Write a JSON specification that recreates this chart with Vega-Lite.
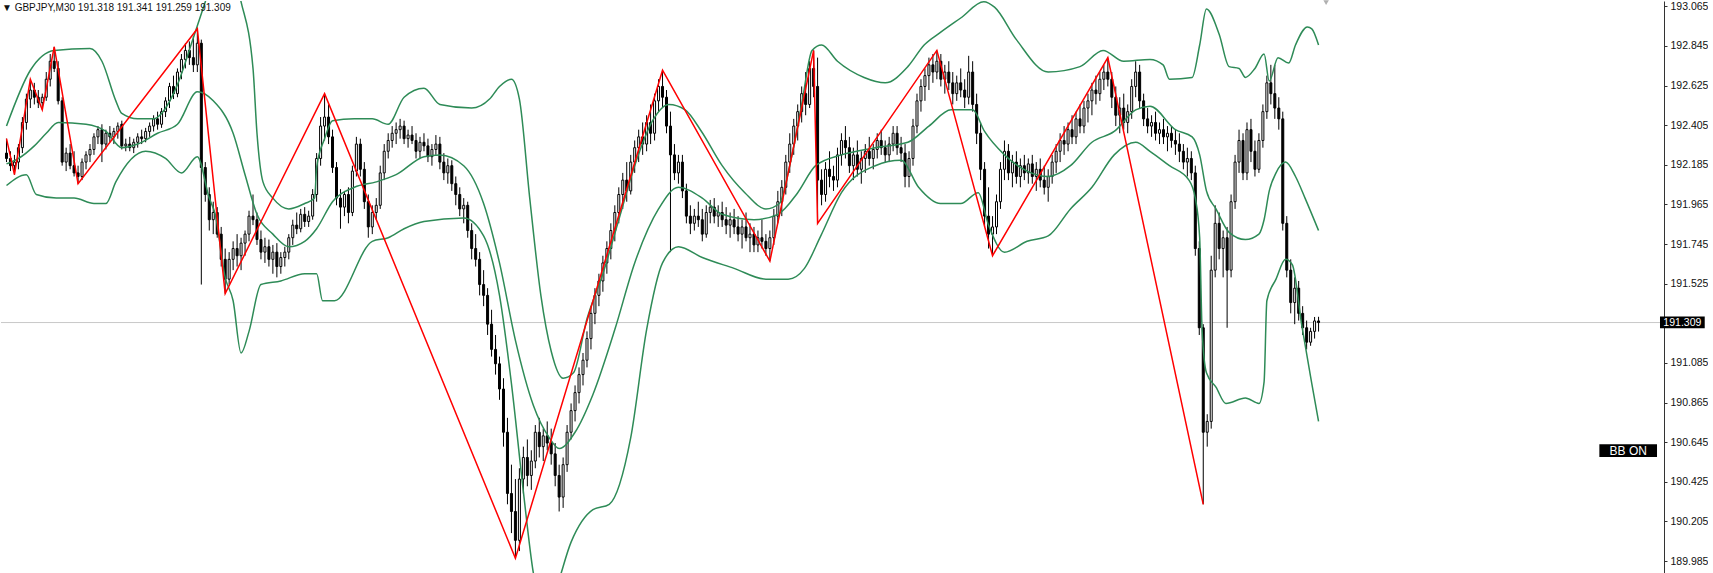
{
"$schema": "https://vega.github.io/schema/vega-lite/v6.json",
"width": 1663, "height": 573, "padding": 0, "autosize": {"type": "pad"},
"background": "white",
"config": {"view": {"stroke": null}, "axisY": {"labelFont": "Liberation Sans", "labelFontSize": 10.5, "labelColor": "#111", "tickSize": 3, "tickColor": "#333", "domainColor": "#333", "labelPadding": 3, "grid": false}},
"title": {"text": "▼ GBPJPY,M30  191.318 191.341 191.259 191.309", "anchor": "start", "frame": "group", "orient": "top", "offset": -13, "font": "Liberation Sans", "fontSize": 10, "fontWeight": "normal", "color": "#111", "dx": 1},
"datasets": {
"candles": [
{"i":0,"o":192.25,"h":192.33,"l":192.2,"c":192.22},{"i":1,"o":192.22,"h":192.26,"l":192.15,"c":192.18},{"i":2,"o":192.18,"h":192.24,"l":192.13,"c":192.2},{"i":3,"o":192.2,"h":192.3,"l":192.16,"c":192.28},{"i":4,"o":192.28,"h":192.45,"l":192.25,"c":192.42},{"i":5,"o":192.42,"h":192.58,"l":192.38,"c":192.55},{"i":6,"o":192.55,"h":192.66,"l":192.5,"c":192.6},{"i":7,"o":192.6,"h":192.64,"l":192.52,"c":192.56},{"i":8,"o":192.56,"h":192.6,"l":192.5,"c":192.53},{"i":9,"o":192.53,"h":192.58,"l":192.49,"c":192.56},
{"i":10,"o":192.56,"h":192.7,"l":192.54,"c":192.66},{"i":11,"o":192.66,"h":192.8,"l":192.62,"c":192.76},{"i":12,"o":192.76,"h":192.84,"l":192.7,"c":192.72},{"i":13,"o":192.72,"h":192.76,"l":192.52,"c":192.54},{"i":14,"o":192.54,"h":192.56,"l":192.18,"c":192.2},{"i":15,"o":192.2,"h":192.28,"l":192.15,"c":192.25},{"i":16,"o":192.25,"h":192.3,"l":192.16,"c":192.18},{"i":17,"o":192.18,"h":192.26,"l":192.12,"c":192.14},{"i":18,"o":192.14,"h":192.18,"l":192.08,"c":192.12},{"i":19,"o":192.12,"h":192.22,"l":192.1,"c":192.2},
{"i":20,"o":192.2,"h":192.26,"l":192.16,"c":192.24},{"i":21,"o":192.24,"h":192.3,"l":192.2,"c":192.27},{"i":22,"o":192.27,"h":192.36,"l":192.24,"c":192.34},{"i":23,"o":192.34,"h":192.4,"l":192.3,"c":192.38},{"i":24,"o":192.38,"h":192.41,"l":192.2,"c":192.3},{"i":25,"o":192.3,"h":192.38,"l":192.27,"c":192.36},{"i":26,"o":192.36,"h":192.4,"l":192.31,"c":192.34},{"i":27,"o":192.34,"h":192.39,"l":192.3,"c":192.37},{"i":28,"o":192.37,"h":192.42,"l":192.33,"c":192.4},{"i":29,"o":192.41,"h":192.43,"l":192.27,"c":192.29},
{"i":30,"o":192.29,"h":192.33,"l":192.26,"c":192.3},{"i":31,"o":192.3,"h":192.34,"l":192.26,"c":192.28},{"i":32,"o":192.28,"h":192.33,"l":192.25,"c":192.31},{"i":33,"o":192.31,"h":192.36,"l":192.28,"c":192.34},{"i":34,"o":192.34,"h":192.38,"l":192.3,"c":192.33},{"i":35,"o":192.33,"h":192.39,"l":192.31,"c":192.37},{"i":36,"o":192.37,"h":192.42,"l":192.34,"c":192.4},{"i":37,"o":192.4,"h":192.46,"l":192.37,"c":192.44},{"i":38,"o":192.44,"h":192.48,"l":192.38,"c":192.41},{"i":39,"o":192.41,"h":192.5,"l":192.39,"c":192.48},
{"i":40,"o":192.48,"h":192.56,"l":192.45,"c":192.54},{"i":41,"o":192.54,"h":192.64,"l":192.5,"c":192.62},{"i":42,"o":192.62,"h":192.68,"l":192.55,"c":192.58},{"i":43,"o":192.58,"h":192.72,"l":192.56,"c":192.7},{"i":44,"o":192.7,"h":192.8,"l":192.66,"c":192.77},{"i":45,"o":192.77,"h":192.86,"l":192.72,"c":192.82},{"i":46,"o":192.82,"h":192.87,"l":192.74,"c":192.78},{"i":47,"o":192.78,"h":192.9,"l":192.7,"c":192.74},{"i":48,"o":192.74,"h":192.94,"l":192.7,"c":192.86},{"i":49,"o":192.86,"h":192.88,"l":191.52,"c":192.17},
{"i":50,"o":192.17,"h":192.2,"l":191.98,"c":192.02},{"i":51,"o":192.02,"h":192.06,"l":191.82,"c":191.88},{"i":52,"o":191.88,"h":191.98,"l":191.8,"c":191.92},{"i":53,"o":191.92,"h":191.95,"l":191.78,"c":191.8},{"i":54,"o":191.8,"h":191.84,"l":191.62,"c":191.66},{"i":55,"o":191.66,"h":191.72,"l":191.47,"c":191.55},{"i":56,"o":191.55,"h":191.7,"l":191.52,"c":191.66},{"i":57,"o":191.66,"h":191.76,"l":191.6,"c":191.72},{"i":58,"o":191.72,"h":191.8,"l":191.62,"c":191.68},{"i":59,"o":191.68,"h":191.78,"l":191.6,"c":191.75},
{"i":60,"o":191.75,"h":191.82,"l":191.68,"c":191.8},{"i":61,"o":191.8,"h":191.93,"l":191.76,"c":191.9},{"i":62,"o":191.9,"h":192.02,"l":191.85,"c":191.88},{"i":63,"o":191.88,"h":191.92,"l":191.74,"c":191.77},{"i":64,"o":191.77,"h":191.82,"l":191.66,"c":191.7},{"i":65,"o":191.7,"h":191.78,"l":191.64,"c":191.73},{"i":66,"o":191.73,"h":191.77,"l":191.62,"c":191.66},{"i":67,"o":191.66,"h":191.74,"l":191.58,"c":191.7},{"i":68,"o":191.7,"h":191.75,"l":191.56,"c":191.62},{"i":69,"o":191.62,"h":191.7,"l":191.58,"c":191.67},
{"i":70,"o":191.67,"h":191.73,"l":191.62,"c":191.7},{"i":71,"o":191.7,"h":191.8,"l":191.66,"c":191.78},{"i":72,"o":191.78,"h":191.88,"l":191.74,"c":191.85},{"i":73,"o":191.85,"h":191.92,"l":191.8,"c":191.83},{"i":74,"o":191.83,"h":191.94,"l":191.81,"c":191.91},{"i":75,"o":191.91,"h":191.95,"l":191.84,"c":191.87},{"i":76,"o":191.87,"h":191.93,"l":191.84,"c":191.9},{"i":77,"o":191.9,"h":192.05,"l":191.88,"c":192.02},{"i":78,"o":192.02,"h":192.25,"l":191.98,"c":192.22},{"i":79,"o":192.22,"h":192.45,"l":192.18,"c":192.4},
{"i":80,"o":192.4,"h":192.58,"l":192.32,"c":192.45},{"i":81,"o":192.45,"h":192.52,"l":192.3,"c":192.34},{"i":82,"o":192.34,"h":192.38,"l":192.14,"c":192.17},{"i":83,"o":192.17,"h":192.2,"l":191.96,"c":192.0},{"i":84,"o":192.0,"h":192.05,"l":191.83,"c":191.95},{"i":85,"o":191.95,"h":192.04,"l":191.9,"c":192.02},{"i":86,"o":192.02,"h":192.06,"l":191.86,"c":191.92},{"i":87,"o":191.92,"h":192.18,"l":191.9,"c":192.15},{"i":88,"o":192.15,"h":192.34,"l":192.12,"c":192.3},{"i":89,"o":192.3,"h":192.33,"l":192.12,"c":192.16},
{"i":90,"o":192.16,"h":192.2,"l":191.94,"c":191.98},{"i":91,"o":191.98,"h":192.02,"l":191.78,"c":191.84},{"i":92,"o":191.84,"h":191.96,"l":191.8,"c":191.92},{"i":93,"o":191.92,"h":192.0,"l":191.88,"c":191.96},{"i":94,"o":191.96,"h":192.18,"l":191.94,"c":192.14},{"i":95,"o":192.14,"h":192.3,"l":192.1,"c":192.26},{"i":96,"o":192.26,"h":192.36,"l":192.22,"c":192.32},{"i":97,"o":192.32,"h":192.4,"l":192.28,"c":192.36},{"i":98,"o":192.36,"h":192.42,"l":192.3,"c":192.38},{"i":99,"o":192.38,"h":192.44,"l":192.33,"c":192.4},
{"i":100,"o":192.4,"h":192.43,"l":192.3,"c":192.33},{"i":101,"o":192.33,"h":192.38,"l":192.28,"c":192.35},{"i":102,"o":192.35,"h":192.4,"l":192.3,"c":192.32},{"i":103,"o":192.32,"h":192.36,"l":192.22,"c":192.26},{"i":104,"o":192.26,"h":192.34,"l":192.22,"c":192.31},{"i":105,"o":192.31,"h":192.36,"l":192.26,"c":192.29},{"i":106,"o":192.29,"h":192.33,"l":192.2,"c":192.23},{"i":107,"o":192.23,"h":192.3,"l":192.18,"c":192.27},{"i":108,"o":192.27,"h":192.35,"l":192.24,"c":192.3},{"i":109,"o":192.3,"h":192.34,"l":192.16,"c":192.2},
{"i":110,"o":192.2,"h":192.25,"l":192.1,"c":192.14},{"i":111,"o":192.14,"h":192.22,"l":192.08,"c":192.18},{"i":112,"o":192.18,"h":192.21,"l":192.04,"c":192.08},{"i":113,"o":192.08,"h":192.12,"l":191.96,"c":192.02},{"i":114,"o":192.02,"h":192.06,"l":191.9,"c":191.94},{"i":115,"o":191.94,"h":192.0,"l":191.86,"c":191.96},{"i":116,"o":191.96,"h":191.98,"l":191.78,"c":191.82},{"i":117,"o":191.82,"h":191.86,"l":191.66,"c":191.72},{"i":118,"o":191.72,"h":191.8,"l":191.62,"c":191.66},{"i":119,"o":191.66,"h":191.7,"l":191.46,"c":191.52},
{"i":120,"o":191.52,"h":191.6,"l":191.4,"c":191.46},{"i":121,"o":191.46,"h":191.5,"l":191.24,"c":191.3},{"i":122,"o":191.3,"h":191.38,"l":191.12,"c":191.16},{"i":123,"o":191.16,"h":191.24,"l":191.02,"c":191.08},{"i":124,"o":191.08,"h":191.12,"l":190.88,"c":190.94},{"i":125,"o":190.94,"h":191.0,"l":190.62,"c":190.7},{"i":126,"o":190.7,"h":190.78,"l":190.3,"c":190.36},{"i":127,"o":190.36,"h":190.52,"l":190.14,"c":190.26},{"i":128,"o":190.26,"h":190.44,"l":190.0,"c":190.1},{"i":129,"o":190.1,"h":190.5,"l":190.04,"c":190.44},
{"i":130,"o":190.44,"h":190.62,"l":190.36,"c":190.56},{"i":131,"o":190.56,"h":190.66,"l":190.4,"c":190.46},{"i":132,"o":190.46,"h":190.6,"l":190.38,"c":190.54},{"i":133,"o":190.54,"h":190.74,"l":190.5,"c":190.7},{"i":134,"o":190.7,"h":190.78,"l":190.56,"c":190.62},{"i":135,"o":190.62,"h":190.72,"l":190.54,"c":190.68},{"i":136,"o":190.68,"h":190.76,"l":190.6,"c":190.64},{"i":137,"o":190.64,"h":190.72,"l":190.52,"c":190.58},{"i":138,"o":190.58,"h":190.64,"l":190.4,"c":190.46},{"i":139,"o":190.46,"h":190.52,"l":190.26,"c":190.34},
{"i":140,"o":190.34,"h":190.56,"l":190.28,"c":190.52},{"i":141,"o":190.52,"h":190.74,"l":190.48,"c":190.7},{"i":142,"o":190.7,"h":190.86,"l":190.66,"c":190.82},{"i":143,"o":190.82,"h":190.96,"l":190.76,"c":190.92},{"i":144,"o":190.92,"h":191.06,"l":190.86,"c":191.02},{"i":145,"o":191.02,"h":191.14,"l":190.96,"c":191.1},{"i":146,"o":191.1,"h":191.26,"l":191.06,"c":191.22},{"i":147,"o":191.22,"h":191.4,"l":191.16,"c":191.36},{"i":148,"o":191.36,"h":191.5,"l":191.3,"c":191.46},{"i":149,"o":191.46,"h":191.58,"l":191.4,"c":191.54},
{"i":150,"o":191.54,"h":191.68,"l":191.48,"c":191.64},{"i":151,"o":191.64,"h":191.76,"l":191.58,"c":191.72},{"i":152,"o":191.72,"h":191.86,"l":191.66,"c":191.82},{"i":153,"o":191.82,"h":191.96,"l":191.76,"c":191.92},{"i":154,"o":191.92,"h":192.06,"l":191.86,"c":192.02},{"i":155,"o":192.02,"h":192.14,"l":191.94,"c":192.1},{"i":156,"o":192.1,"h":192.2,"l":191.98,"c":192.04},{"i":157,"o":192.04,"h":192.24,"l":192.02,"c":192.2},{"i":158,"o":192.2,"h":192.32,"l":192.14,"c":192.28},{"i":159,"o":192.28,"h":192.38,"l":192.2,"c":192.34},
{"i":160,"o":192.34,"h":192.42,"l":192.24,"c":192.3},{"i":161,"o":192.3,"h":192.46,"l":192.26,"c":192.42},{"i":162,"o":192.42,"h":192.52,"l":192.3,"c":192.36},{"i":163,"o":192.36,"h":192.58,"l":192.32,"c":192.54},{"i":164,"o":192.54,"h":192.66,"l":192.48,"c":192.62},{"i":165,"o":192.62,"h":192.71,"l":192.5,"c":192.56},{"i":166,"o":192.56,"h":192.6,"l":192.36,"c":192.4},{"i":167,"o":192.4,"h":192.48,"l":191.7,"c":192.24},{"i":168,"o":192.24,"h":192.3,"l":192.1,"c":192.14},{"i":169,"o":192.14,"h":192.24,"l":192.08,"c":192.2},
{"i":170,"o":192.2,"h":192.24,"l":192.0,"c":192.04},{"i":171,"o":192.04,"h":192.08,"l":191.86,"c":191.9},{"i":172,"o":191.9,"h":191.96,"l":191.8,"c":191.86},{"i":173,"o":191.86,"h":191.94,"l":191.82,"c":191.9},{"i":174,"o":191.9,"h":191.98,"l":191.84,"c":191.88},{"i":175,"o":191.88,"h":191.94,"l":191.76,"c":191.8},{"i":176,"o":191.8,"h":191.96,"l":191.78,"c":191.92},{"i":177,"o":191.92,"h":191.99,"l":191.86,"c":191.95},{"i":178,"o":191.95,"h":192.0,"l":191.86,"c":191.9},{"i":179,"o":191.9,"h":191.96,"l":191.84,"c":191.92},
{"i":180,"o":191.92,"h":191.98,"l":191.84,"c":191.88},{"i":181,"o":191.88,"h":191.95,"l":191.8,"c":191.85},{"i":182,"o":191.85,"h":191.92,"l":191.78,"c":191.88},{"i":183,"o":191.88,"h":191.94,"l":191.8,"c":191.84},{"i":184,"o":191.84,"h":191.9,"l":191.76,"c":191.8},{"i":185,"o":191.8,"h":191.88,"l":191.72,"c":191.84},{"i":186,"o":191.84,"h":191.92,"l":191.76,"c":191.78},{"i":187,"o":191.78,"h":191.86,"l":191.7,"c":191.8},{"i":188,"o":191.8,"h":191.84,"l":191.7,"c":191.74},{"i":189,"o":191.74,"h":191.82,"l":191.7,"c":191.78},
{"i":190,"o":191.78,"h":191.88,"l":191.72,"c":191.76},{"i":191,"o":191.76,"h":191.8,"l":191.68,"c":191.72},{"i":192,"o":191.72,"h":191.82,"l":191.65,"c":191.78},{"i":193,"o":191.78,"h":191.94,"l":191.74,"c":191.9},{"i":194,"o":191.9,"h":192.04,"l":191.86,"c":191.98},{"i":195,"o":191.98,"h":192.1,"l":191.9,"c":192.06},{"i":196,"o":192.06,"h":192.24,"l":192.02,"c":192.2},{"i":197,"o":192.2,"h":192.36,"l":192.14,"c":192.3},{"i":198,"o":192.3,"h":192.44,"l":192.24,"c":192.4},{"i":199,"o":192.4,"h":192.52,"l":192.32,"c":192.48},
{"i":200,"o":192.48,"h":192.62,"l":192.42,"c":192.58},{"i":201,"o":192.58,"h":192.7,"l":192.46,"c":192.52},{"i":202,"o":192.52,"h":192.76,"l":192.5,"c":192.72},{"i":203,"o":192.72,"h":192.82,"l":192.56,"c":192.62},{"i":204,"o":192.62,"h":192.78,"l":191.86,"c":192.1},{"i":205,"o":192.1,"h":192.16,"l":191.96,"c":192.02},{"i":206,"o":192.02,"h":192.2,"l":191.98,"c":192.16},{"i":207,"o":192.16,"h":192.26,"l":192.06,"c":192.12},{"i":208,"o":192.12,"h":192.18,"l":192.04,"c":192.1},{"i":209,"o":192.1,"h":192.28,"l":192.06,"c":192.24},
{"i":210,"o":192.24,"h":192.36,"l":192.18,"c":192.32},{"i":211,"o":192.32,"h":192.4,"l":192.22,"c":192.28},{"i":212,"o":192.28,"h":192.34,"l":192.14,"c":192.18},{"i":213,"o":192.18,"h":192.28,"l":192.1,"c":192.24},{"i":214,"o":192.24,"h":192.32,"l":192.12,"c":192.16},{"i":215,"o":192.16,"h":192.26,"l":192.08,"c":192.22},{"i":216,"o":192.22,"h":192.3,"l":192.14,"c":192.26},{"i":217,"o":192.26,"h":192.34,"l":192.18,"c":192.22},{"i":218,"o":192.22,"h":192.3,"l":192.16,"c":192.27},{"i":219,"o":192.27,"h":192.36,"l":192.22,"c":192.32},
{"i":220,"o":192.32,"h":192.38,"l":192.24,"c":192.28},{"i":221,"o":192.28,"h":192.32,"l":192.2,"c":192.24},{"i":222,"o":192.24,"h":192.34,"l":192.2,"c":192.3},{"i":223,"o":192.3,"h":192.4,"l":192.26,"c":192.36},{"i":224,"o":192.36,"h":192.4,"l":192.24,"c":192.28},{"i":225,"o":192.28,"h":192.34,"l":192.2,"c":192.25},{"i":226,"o":192.25,"h":192.3,"l":192.06,"c":192.12},{"i":227,"o":192.12,"h":192.26,"l":192.06,"c":192.22},{"i":228,"o":192.22,"h":192.44,"l":192.18,"c":192.4},{"i":229,"o":192.4,"h":192.58,"l":192.36,"c":192.54},
{"i":230,"o":192.54,"h":192.66,"l":192.48,"c":192.62},{"i":231,"o":192.62,"h":192.72,"l":192.54,"c":192.68},{"i":232,"o":192.68,"h":192.78,"l":192.6,"c":192.74},{"i":233,"o":192.74,"h":192.8,"l":192.64,"c":192.7},{"i":234,"o":192.7,"h":192.82,"l":192.66,"c":192.76},{"i":235,"o":192.76,"h":192.8,"l":192.62,"c":192.66},{"i":236,"o":192.66,"h":192.74,"l":192.58,"c":192.7},{"i":237,"o":192.7,"h":192.76,"l":192.6,"c":192.64},{"i":238,"o":192.64,"h":192.7,"l":192.52,"c":192.58},{"i":239,"o":192.58,"h":192.68,"l":192.54,"c":192.64},
{"i":240,"o":192.64,"h":192.72,"l":192.56,"c":192.6},{"i":241,"o":192.6,"h":192.66,"l":192.5,"c":192.56},{"i":242,"o":192.56,"h":192.79,"l":192.52,"c":192.7},{"i":243,"o":192.7,"h":192.76,"l":192.48,"c":192.52},{"i":244,"o":192.52,"h":192.58,"l":192.3,"c":192.36},{"i":245,"o":192.36,"h":192.42,"l":192.1,"c":192.16},{"i":246,"o":192.16,"h":192.2,"l":191.84,"c":191.9},{"i":247,"o":191.9,"h":192.06,"l":191.72,"c":191.8},{"i":248,"o":191.8,"h":191.9,"l":191.68,"c":191.84},{"i":249,"o":191.84,"h":192.02,"l":191.8,"c":191.98},
{"i":250,"o":191.98,"h":192.2,"l":191.94,"c":192.16},{"i":251,"o":192.16,"h":192.32,"l":192.1,"c":192.26},{"i":252,"o":192.26,"h":192.3,"l":192.1,"c":192.14},{"i":253,"o":192.14,"h":192.24,"l":192.06,"c":192.2},{"i":254,"o":192.2,"h":192.26,"l":192.08,"c":192.12},{"i":255,"o":192.12,"h":192.22,"l":192.06,"c":192.18},{"i":256,"o":192.18,"h":192.24,"l":192.1,"c":192.14},{"i":257,"o":192.14,"h":192.22,"l":192.08,"c":192.19},{"i":258,"o":192.19,"h":192.24,"l":192.08,"c":192.12},{"i":259,"o":192.12,"h":192.2,"l":192.04,"c":192.16},
{"i":260,"o":192.16,"h":192.22,"l":192.06,"c":192.1},{"i":261,"o":192.1,"h":192.18,"l":192.02,"c":192.06},{"i":262,"o":192.06,"h":192.16,"l":191.98,"c":192.12},{"i":263,"o":192.12,"h":192.24,"l":192.08,"c":192.2},{"i":264,"o":192.2,"h":192.3,"l":192.14,"c":192.26},{"i":265,"o":192.26,"h":192.36,"l":192.2,"c":192.32},{"i":266,"o":192.32,"h":192.4,"l":192.24,"c":192.3},{"i":267,"o":192.3,"h":192.42,"l":192.26,"c":192.38},{"i":268,"o":192.38,"h":192.46,"l":192.3,"c":192.34},{"i":269,"o":192.34,"h":192.48,"l":192.3,"c":192.44},
{"i":270,"o":192.44,"h":192.52,"l":192.36,"c":192.4},{"i":271,"o":192.4,"h":192.54,"l":192.36,"c":192.5},{"i":272,"o":192.5,"h":192.58,"l":192.42,"c":192.54},{"i":273,"o":192.54,"h":192.64,"l":192.46,"c":192.6},{"i":274,"o":192.6,"h":192.68,"l":192.52,"c":192.58},{"i":275,"o":192.58,"h":192.7,"l":192.54,"c":192.66},{"i":276,"o":192.66,"h":192.74,"l":192.6,"c":192.7},{"i":277,"o":192.7,"h":192.78,"l":192.62,"c":192.66},{"i":278,"o":192.66,"h":192.7,"l":192.5,"c":192.56},{"i":279,"o":192.56,"h":192.62,"l":192.4,"c":192.46},
{"i":280,"o":192.46,"h":192.56,"l":192.36,"c":192.5},{"i":281,"o":192.5,"h":192.58,"l":192.38,"c":192.42},{"i":282,"o":192.42,"h":192.52,"l":192.36,"c":192.48},{"i":283,"o":192.48,"h":192.66,"l":192.44,"c":192.62},{"i":284,"o":192.62,"h":192.76,"l":192.56,"c":192.7},{"i":285,"o":192.7,"h":192.74,"l":192.5,"c":192.54},{"i":286,"o":192.54,"h":192.58,"l":192.4,"c":192.44},{"i":287,"o":192.44,"h":192.5,"l":192.36,"c":192.4},{"i":288,"o":192.4,"h":192.46,"l":192.34,"c":192.42},{"i":289,"o":192.42,"h":192.48,"l":192.32,"c":192.36},
{"i":290,"o":192.36,"h":192.42,"l":192.3,"c":192.38},{"i":291,"o":192.38,"h":192.44,"l":192.3,"c":192.34},{"i":292,"o":192.34,"h":192.4,"l":192.26,"c":192.36},{"i":293,"o":192.36,"h":192.4,"l":192.28,"c":192.32},{"i":294,"o":192.32,"h":192.38,"l":192.24,"c":192.3},{"i":295,"o":192.3,"h":192.36,"l":192.2,"c":192.26},{"i":296,"o":192.26,"h":192.3,"l":192.16,"c":192.2},{"i":297,"o":192.2,"h":192.28,"l":192.12,"c":192.22},{"i":298,"o":192.22,"h":192.26,"l":192.1,"c":192.14},{"i":299,"o":192.14,"h":192.18,"l":191.68,"c":191.72},
{"i":300,"o":191.72,"h":191.76,"l":191.24,"c":191.28},{"i":301,"o":191.28,"h":191.3,"l":190.3,"c":190.7},{"i":302,"o":190.7,"h":190.8,"l":190.62,"c":190.76},{"i":303,"o":190.76,"h":191.68,"l":190.72,"c":191.6},{"i":304,"o":191.6,"h":191.96,"l":191.56,"c":191.86},{"i":305,"o":191.86,"h":191.92,"l":191.66,"c":191.72},{"i":306,"o":191.72,"h":191.82,"l":191.56,"c":191.78},{"i":307,"o":191.78,"h":191.84,"l":191.28,"c":191.6},{"i":308,"o":191.6,"h":192.02,"l":191.56,"c":191.98},{"i":309,"o":191.98,"h":192.24,"l":191.94,"c":192.2},
{"i":310,"o":192.2,"h":192.38,"l":192.14,"c":192.32},{"i":311,"o":192.32,"h":192.36,"l":192.1,"c":192.14},{"i":312,"o":192.14,"h":192.42,"l":192.1,"c":192.38},{"i":313,"o":192.38,"h":192.44,"l":192.2,"c":192.26},{"i":314,"o":192.26,"h":192.32,"l":192.12,"c":192.16},{"i":315,"o":192.16,"h":192.36,"l":192.14,"c":192.32},{"i":316,"o":192.32,"h":192.52,"l":192.28,"c":192.48},{"i":317,"o":192.48,"h":192.68,"l":192.44,"c":192.64},{"i":318,"o":192.64,"h":192.74,"l":192.52,"c":192.58},{"i":319,"o":192.58,"h":192.74,"l":192.44,"c":192.5},
{"i":320,"o":192.5,"h":192.56,"l":192.38,"c":192.44},{"i":321,"o":192.44,"h":192.48,"l":191.82,"c":191.86},{"i":322,"o":191.86,"h":191.9,"l":191.56,"c":191.6},{"i":323,"o":191.6,"h":191.66,"l":191.36,"c":191.42},{"i":324,"o":191.42,"h":191.56,"l":191.3,"c":191.5},{"i":325,"o":191.5,"h":191.54,"l":191.32,"c":191.36},{"i":326,"o":191.36,"h":191.4,"l":191.24,"c":191.28},{"i":327,"o":191.28,"h":191.32,"l":191.16,"c":191.2},{"i":328,"o":191.2,"h":191.28,"l":191.18,"c":191.26},{"i":329,"o":191.26,"h":191.34,"l":191.22,"c":191.318},
{"i":330,"o":191.318,"h":191.341,"l":191.259,"c":191.309}
],
"bands": [
{"b":"u","i":0,"v":192.4},{"b":"u","i":6,"v":192.71},{"b":"u","i":12,"v":192.82},{"b":"u","i":21,"v":192.83},{"b":"u","i":24,"v":192.76},{"b":"u","i":27.5,"v":192.54},{"b":"u","i":29,"v":192.47},{"b":"u","i":33,"v":192.44},{"b":"u","i":37,"v":192.44},{"b":"u","i":39,"v":192.47},{"b":"u","i":43,"v":192.63},{"b":"u","i":47,"v":192.89},{"b":"u","i":50,"v":193.09},{"b":"u","i":54,"v":193.37},{"b":"u","i":59,"v":193.09},{"b":"u","i":62,"v":192.72},{"b":"u","i":63,"v":192.36},{"b":"u","i":64.5,"v":192.09},{"b":"u","i":67,"v":192.0},{"b":"u","i":71,"v":191.94},{"b":"u","i":75,"v":191.97},{"b":"u","i":77.5,"v":192.0},{"b":"u","i":78,"v":192.17},{"b":"u","i":80,"v":192.33},{"b":"u","i":82,"v":192.43},{"b":"u","i":87.5,"v":192.44},{"b":"u","i":92,"v":192.44},{"b":"u","i":96,"v":192.41},{"b":"u","i":100,"v":192.56},{"b":"u","i":105,"v":192.61},{"b":"u","i":109,"v":192.52},{"b":"u","i":117,"v":192.5},{"b":"u","i":121.5,"v":192.55},{"b":"u","i":124,"v":192.62},{"b":"u","i":127,"v":192.66},{"b":"u","i":129,"v":192.55},{"b":"u","i":131.6,"v":192.0},{"b":"u","i":134.4,"v":191.46},{"b":"u","i":137,"v":191.15},{"b":"u","i":140,"v":191.0},{"b":"u","i":142.6,"v":191.03},{"b":"u","i":146,"v":191.33},{"b":"u","i":150,"v":191.58},{"b":"u","i":154,"v":191.88},{"b":"u","i":158,"v":192.18},{"b":"u","i":162.5,"v":192.43},{"b":"u","i":166.6,"v":192.52},{"b":"u","i":170.7,"v":192.49},{"b":"u","i":174.8,"v":192.37},{"b":"u","i":180,"v":192.18},{"b":"u","i":185.7,"v":192.03},{"b":"u","i":191,"v":191.94},{"b":"u","i":194.4,"v":191.97},{"b":"u","i":197,"v":192.18},{"b":"u","i":200,"v":192.52},{"b":"u","i":202.6,"v":192.82},{"b":"u","i":205,"v":192.85},{"b":"u","i":209,"v":192.76},{"b":"u","i":215.7,"v":192.67},{"b":"u","i":221,"v":192.64},{"b":"u","i":226.7,"v":192.73},{"b":"u","i":230.8,"v":192.85},{"b":"u","i":234.9,"v":192.92},{"b":"u","i":240,"v":193.0},{"b":"u","i":245.8,"v":193.09},{"b":"u","i":248.5,"v":193.06},{"b":"u","i":254,"v":192.88},{"b":"u","i":262,"v":192.7},{"b":"u","i":270,"v":192.73},{"b":"u","i":275.8,"v":192.82},{"b":"u","i":281,"v":192.76},{"b":"u","i":287.6,"v":192.77},{"b":"u","i":290.9,"v":192.74},{"b":"u","i":292.5,"v":192.66},{"b":"u","i":298.2,"v":192.67},{"b":"u","i":300.1,"v":192.85},{"b":"u","i":301.8,"v":193.05},{"b":"u","i":305,"v":192.91},{"b":"u","i":307.5,"v":192.73},{"b":"u","i":310,"v":192.72},{"b":"u","i":311.6,"v":192.67},{"b":"u","i":314,"v":192.72},{"b":"u","i":316.3,"v":192.8},{"b":"u","i":317.6,"v":192.65},{"b":"u","i":319.8,"v":192.78},{"b":"u","i":322.5,"v":192.75},{"b":"u","i":324.2,"v":192.85},{"b":"u","i":327.2,"v":192.95},{"b":"u","i":328.3,"v":192.94},{"b":"u","i":330,"v":192.85},
{"b":"m","i":0,"v":192.19},{"b":"m","i":3,"v":192.22},{"b":"m","i":7,"v":192.29},{"b":"m","i":10,"v":192.36},{"b":"m","i":13,"v":192.42},{"b":"m","i":20,"v":192.41},{"b":"m","i":25,"v":192.37},{"b":"m","i":29,"v":192.28},{"b":"m","i":33,"v":192.3},{"b":"m","i":38,"v":192.36},{"b":"m","i":43,"v":192.41},{"b":"m","i":48,"v":192.59},{"b":"m","i":52,"v":192.54},{"b":"m","i":57,"v":192.36},{"b":"m","i":60,"v":192.13},{"b":"m","i":63,"v":191.91},{"b":"m","i":67,"v":191.8},{"b":"m","i":71,"v":191.73},{"b":"m","i":75,"v":191.76},{"b":"m","i":78,"v":191.83},{"b":"m","i":82,"v":191.98},{"b":"m","i":87.5,"v":192.06},{"b":"m","i":93,"v":192.09},{"b":"m","i":98,"v":192.13},{"b":"m","i":105,"v":192.23},{"b":"m","i":109,"v":192.24},{"b":"m","i":115,"v":192.18},{"b":"m","i":120,"v":191.97},{"b":"m","i":124,"v":191.64},{"b":"m","i":128,"v":191.21},{"b":"m","i":132.5,"v":190.85},{"b":"m","i":136.5,"v":190.67},{"b":"m","i":139,"v":190.61},{"b":"m","i":143,"v":190.7},{"b":"m","i":147.5,"v":190.91},{"b":"m","i":153,"v":191.27},{"b":"m","i":158,"v":191.64},{"b":"m","i":164,"v":191.94},{"b":"m","i":169,"v":192.06},{"b":"m","i":175,"v":192.0},{"b":"m","i":180,"v":191.91},{"b":"m","i":188,"v":191.88},{"b":"m","i":194,"v":191.91},{"b":"m","i":199,"v":192.03},{"b":"m","i":203.5,"v":192.18},{"b":"m","i":210,"v":192.24},{"b":"m","i":218.5,"v":192.28},{"b":"m","i":226.7,"v":192.31},{"b":"m","i":232,"v":192.4},{"b":"m","i":237.6,"v":192.49},{"b":"m","i":243,"v":192.49},{"b":"m","i":246,"v":192.37},{"b":"m","i":251,"v":192.24},{"b":"m","i":256.7,"v":192.15},{"b":"m","i":262,"v":192.12},{"b":"m","i":267.6,"v":192.18},{"b":"m","i":273,"v":192.31},{"b":"m","i":278.6,"v":192.37},{"b":"m","i":284,"v":192.49},{"b":"m","i":287.6,"v":192.51},{"b":"m","i":294,"v":192.38},{"b":"m","i":298.2,"v":192.34},{"b":"m","i":300.1,"v":192.24},{"b":"m","i":301.8,"v":192.04},{"b":"m","i":304.2,"v":191.94},{"b":"m","i":307.5,"v":191.81},{"b":"m","i":311.6,"v":191.77},{"b":"m","i":315,"v":191.8},{"b":"m","i":316.3,"v":191.88},{"b":"m","i":317.6,"v":192.04},{"b":"m","i":319.3,"v":192.14},{"b":"m","i":321.7,"v":192.2},{"b":"m","i":324.2,"v":192.12},{"b":"m","i":326.6,"v":192.0},{"b":"m","i":330,"v":191.82},
{"b":"d","i":0,"v":192.07},{"b":"d","i":5,"v":192.13},{"b":"d","i":7.5,"v":192.02},{"b":"d","i":12.5,"v":192.0},{"b":"d","i":17,"v":192.0},{"b":"d","i":22,"v":191.97},{"b":"d","i":25,"v":191.97},{"b":"d","i":27.5,"v":192.09},{"b":"d","i":35,"v":192.26},{"b":"d","i":40,"v":192.22},{"b":"d","i":44,"v":192.14},{"b":"d","i":48,"v":192.23},{"b":"d","i":51,"v":192.0},{"b":"d","i":52.5,"v":191.91},{"b":"d","i":55,"v":191.56},{"b":"d","i":57,"v":191.43},{"b":"d","i":59,"v":191.14},{"b":"d","i":61,"v":191.26},{"b":"d","i":64,"v":191.52},{"b":"d","i":69,"v":191.54},{"b":"d","i":75,"v":191.58},{"b":"d","i":78,"v":191.58},{"b":"d","i":79.5,"v":191.43},{"b":"d","i":82.5,"v":191.43},{"b":"d","i":92,"v":191.76},{"b":"d","i":96,"v":191.78},{"b":"d","i":100,"v":191.83},{"b":"d","i":105,"v":191.87},{"b":"d","i":115,"v":191.89},{"b":"d","i":120,"v":191.79},{"b":"d","i":124,"v":191.46},{"b":"d","i":127,"v":190.97},{"b":"d","i":130,"v":190.37},{"b":"d","i":132.5,"v":189.92},{"b":"d","i":135,"v":189.7},{"b":"d","i":138,"v":189.82},{"b":"d","i":142,"v":190.09},{"b":"d","i":147.5,"v":190.27},{"b":"d","i":151.6,"v":190.3},{"b":"d","i":157,"v":190.67},{"b":"d","i":161,"v":191.27},{"b":"d","i":165,"v":191.64},{"b":"d","i":169,"v":191.73},{"b":"d","i":175,"v":191.67},{"b":"d","i":183,"v":191.61},{"b":"d","i":191,"v":191.55},{"b":"d","i":196.6,"v":191.55},{"b":"d","i":200.7,"v":191.61},{"b":"d","i":204.8,"v":191.79},{"b":"d","i":210,"v":192.03},{"b":"d","i":218.5,"v":192.18},{"b":"d","i":225,"v":192.21},{"b":"d","i":229.4,"v":192.06},{"b":"d","i":234.9,"v":191.97},{"b":"d","i":240,"v":191.97},{"b":"d","i":244.4,"v":192.03},{"b":"d","i":247,"v":191.85},{"b":"d","i":251,"v":191.7},{"b":"d","i":256.7,"v":191.76},{"b":"d","i":262,"v":191.79},{"b":"d","i":267.6,"v":191.94},{"b":"d","i":273,"v":192.06},{"b":"d","i":278.6,"v":192.24},{"b":"d","i":284,"v":192.31},{"b":"d","i":287.6,"v":192.26},{"b":"d","i":292.5,"v":192.18},{"b":"d","i":297.4,"v":192.1},{"b":"d","i":299,"v":192.0},{"b":"d","i":300.1,"v":191.78},{"b":"d","i":300.7,"v":191.27},{"b":"d","i":301.8,"v":191.03},{"b":"d","i":304.2,"v":190.95},{"b":"d","i":306.7,"v":190.86},{"b":"d","i":311.6,"v":190.89},{"b":"d","i":315,"v":190.86},{"b":"d","i":316.3,"v":190.98},{"b":"d","i":317,"v":191.43},{"b":"d","i":319.3,"v":191.55},{"b":"d","i":321.7,"v":191.66},{"b":"d","i":323.4,"v":191.63},{"b":"d","i":325.8,"v":191.29},{"b":"d","i":328.3,"v":190.97},{"b":"d","i":330,"v":190.76}
],
"zz": [
{"i":0,"p":192.33},{"i":2,"p":192.13},{"i":6,"p":192.66},{"i":9,"p":192.49},{"i":12,"p":192.84},{"i":18,"p":192.08},{"i":48,"p":192.94},{"i":55,"p":191.47},{"i":80,"p":192.58},{"i":128,"p":190.0},{"i":165,"p":192.71},{"i":192,"p":191.65},{"i":203,"p":192.82},{"i":204,"p":191.86},{"i":234,"p":192.82},{"i":248,"p":191.68},{"i":277,"p":192.78},{"i":301,"p":190.3}
],
"tags": [
{"t":"BB ON","i0":400.625,"i1":415.125,"ic":407.9,"p0":190.634,"p1":190.562,"pc":190.598},
{"t":"191.309","i0":415.875,"i1":427.125,"ic":421.5,"p0":191.342,"p1":191.278,"pc":191.309}
],
"shift": [{"i": 331.9, "p": 193.085}]
},
"layer": [
{"data": {"values": [{"p": 191.309}]}, "mark": {"type": "rule", "color": "#c8c8c8", "strokeWidth": 1},
 "encoding": {"y": {"field": "p", "type": "quantitative", "scale": {"domain": [189.9129, 193.0944], "nice": false, "zero": false},
   "axis": {"title": null, "orient": "right", "values": [193.065,192.845,192.625,192.405,192.185,191.965,191.745,191.525,191.085,190.865,190.645,190.425,190.205,189.985], "format": ".3f"}}}},
{"data": {"name": "candles"}, "mark": {"type": "rule", "color": "#000", "strokeWidth": 1},
 "encoding": {"x": {"field": "i", "type": "quantitative", "scale": {"domain": [-0.125, 415.625], "nice": false, "zero": false}, "axis": null},
   "y": {"field": "l", "type": "quantitative", "scale": {"domain": [189.9129, 193.0944], "nice": false, "zero": false}, "axis": {"title": null}}, "y2": {"field": "h"}}},
{"data": {"name": "candles"}, "mark": {"type": "bar", "orient": "vertical", "size": 2, "stroke": "#000", "strokeWidth": 1},
 "encoding": {"x": {"field": "i", "type": "quantitative", "scale": {"domain": [-0.125, 415.625], "nice": false, "zero": false}, "axis": null},
   "y": {"field": "o", "type": "quantitative", "scale": {"domain": [189.9129, 193.0944], "nice": false, "zero": false}, "axis": {"title": null}}, "y2": {"field": "c"},
   "fill": {"condition": {"test": "datum.c >= datum.o", "value": "#ffffff"}, "value": "#000000"}}},
{"data": {"name": "bands"}, "mark": {"type": "line", "color": "#2e8b57", "strokeWidth": 1.5, "clip": true, "interpolate": "monotone"},
 "encoding": {"x": {"field": "i", "type": "quantitative", "scale": {"domain": [-0.125, 415.625], "nice": false, "zero": false}, "axis": null},
   "y": {"field": "v", "type": "quantitative", "scale": {"domain": [189.9129, 193.0944], "nice": false, "zero": false}, "axis": {"title": null}}, "detail": {"field": "b"}}},
{"data": {"name": "zz"}, "mark": {"type": "line", "color": "#ff0000", "strokeWidth": 1.5, "clip": true},
 "encoding": {"x": {"field": "i", "type": "quantitative", "scale": {"domain": [-0.125, 415.625], "nice": false, "zero": false}, "axis": null},
   "y": {"field": "p", "type": "quantitative", "scale": {"domain": [189.9129, 193.0944], "nice": false, "zero": false}, "axis": {"title": null}}}},
{"data": {"name": "shift"}, "mark": {"type": "point", "shape": "triangle-down", "filled": true, "color": "#b0b0b0", "size": 30, "opacity": 1},
 "encoding": {"x": {"field": "i", "type": "quantitative", "scale": {"domain": [-0.125, 415.625], "nice": false, "zero": false}, "axis": null},
   "y": {"field": "p", "type": "quantitative", "scale": {"domain": [189.9129, 193.0944], "nice": false, "zero": false}, "axis": {"title": null}}}},
{"data": {"name": "tags"}, "mark": {"type": "rect", "color": "#000", "clip": false},
 "encoding": {"x": {"field": "i0", "type": "quantitative", "scale": {"domain": [-0.125, 415.625], "nice": false, "zero": false}, "axis": null}, "x2": {"field": "i1"},
   "y": {"field": "p0", "type": "quantitative", "scale": {"domain": [189.9129, 193.0944], "nice": false, "zero": false}, "axis": {"title": null}}, "y2": {"field": "p1"}}},
{"data": {"name": "tags"}, "transform": [{"filter": "datum.t == 'BB ON'"}], "mark": {"type": "text", "color": "#fff", "font": "Liberation Sans", "fontSize": 12, "align": "center", "baseline": "middle", "clip": false},
 "encoding": {"x": {"field": "ic", "type": "quantitative", "scale": {"domain": [-0.125, 415.625], "nice": false, "zero": false}, "axis": null},
   "y": {"field": "pc", "type": "quantitative", "scale": {"domain": [189.9129, 193.0944], "nice": false, "zero": false}, "axis": {"title": null}}, "text": {"field": "t"}}},
{"data": {"name": "tags"}, "transform": [{"filter": "datum.t != 'BB ON'"}], "mark": {"type": "text", "color": "#fff", "font": "Liberation Sans", "fontSize": 10.5, "align": "center", "baseline": "middle", "clip": false},
 "encoding": {"x": {"field": "ic", "type": "quantitative", "scale": {"domain": [-0.125, 415.625], "nice": false, "zero": false}, "axis": null},
   "y": {"field": "pc", "type": "quantitative", "scale": {"domain": [189.9129, 193.0944], "nice": false, "zero": false}, "axis": {"title": null}}, "text": {"field": "t"}}}
]
}
